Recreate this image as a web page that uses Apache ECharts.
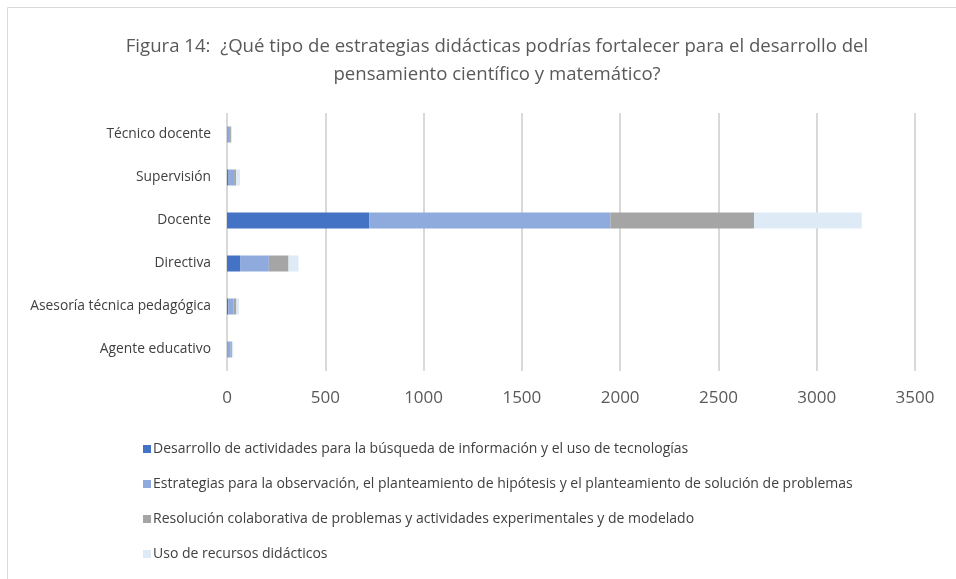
<!DOCTYPE html>
<html><head><meta charset="utf-8">
<script src="https://cdn.jsdelivr.net/npm/echarts@6/dist/echarts.min.js"></script>
<style>html,body{margin:0;padding:0;background:#fff}#c{width:956px;height:579px}</style>
</head><body><div id="c"></div>
<script>
const categories = ["Agente educativo","Asesoría técnica pedagógica","Directiva","Docente","Supervisión","Técnico docente"];
const seriesNames = [
  "Desarrollo de actividades para la búsqueda de información y el uso de tecnologías",
  "Estrategias para la observación, el planteamiento de hipótesis y el planteamiento de solución de problemas",
  "Resolución colaborativa de problemas y actividades experimentales y de modelado",
  "Uso de recursos didácticos"
];
const desarrollo   = [3, 6, 69, 723, 5, 3];
const estrategias  = [16, 27, 144, 1228, 31, 12];
const resolucion   = [6, 15, 100, 730, 10, 5];
const recursos     = [7, 13, 51, 548, 20, 5];
const xTicks = [0,500,1000,1500,2000,2500,3000,3500];
const colors = ["#4472C4","#8FAADC","#A5A5A5","#DEEBF7"];
const values = [desarrollo, estrategias, resolucion, recursos];
const FONT = "Open Sans";

const chart = echarts.init(document.getElementById('c'));
chart.setOption({
  animation:false,
  textStyle:{fontFamily:FONT},
  graphic:[{type:'rect',shape:{x:7.5,y:7.5,width:960,height:600},style:{fill:'none',stroke:'#d9d9d9',lineWidth:1}}],
  title:{
    text:"Figura 14:  ¿Qué tipo de estrategias didácticas podrías fortalecer para el desarrollo del\npensamiento científico y matemático?",
    left:492, top:28, textAlign:'center',
    textStyle:{fontFamily:FONT,fontSize:18.6,fontWeight:'normal',color:'#595959',lineHeight:28,align:'center'}
  },
  legend:{
    orient:'vertical', left:138, top:437, itemWidth:8, itemHeight:8, itemGap:21,
    icon:'rect',
    textStyle:{fontFamily:FONT,fontSize:14,color:'#404040',padding:[0,0,0,-3]},
    data:seriesNames
  },
  grid:{left:227, right:41, top:113, bottom:208, containLabel:false},
  xAxis:{
    type:'value', min:0, max:3500, interval:500,
    axisLine:{show:false}, axisTick:{show:false},
    axisLabel:{fontFamily:FONT,fontSize:17,color:'#595959',margin:19,
      formatter:v=>xTicks.includes(v)?String(v):''},
    splitLine:{lineStyle:{color:'#d9d9d9',width:2}}
  },
  yAxis:{
    type:'category', data:categories,
    axisLine:{show:false}, axisTick:{show:false},
    axisLabel:{fontFamily:FONT,fontSize:13.8,color:'#404040',margin:16}
  },
  series: seriesNames.map((n,i)=>({
    name:n, type:'bar', stack:'t', data:values[i], barWidth:16,
    itemStyle:{color:colors[i]}
  }))
});
</script></body></html>
